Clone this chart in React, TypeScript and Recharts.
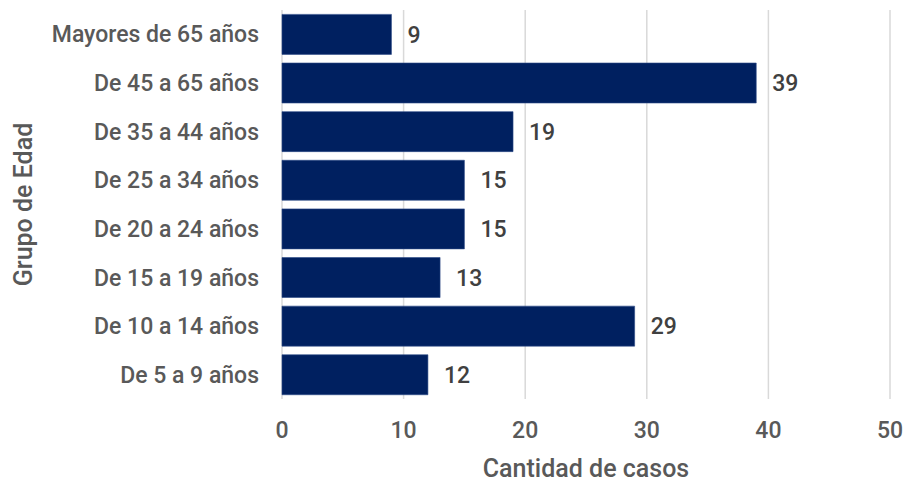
import React from 'react';
import { BarChart, Bar, XAxis, YAxis, CartesianGrid, LabelList } from 'recharts';

const grupos = [
  'Mayores de 65 años',
  'De 45 a 65 años',
  'De 35 a 44 años',
  'De 25 a 34 años',
  'De 20 a 24 años',
  'De 15 a 19 años',
  'De 10 a 14 años',
  'De 5 a 9 años',
];
const casos = [9, 39, 19, 15, 15, 13, 29, 12];
const xTicks = [0, 10, 20, 30, 40, 50];

const data = grupos.map((grupo, i) => ({ grupo, casos: casos[i] }));

const font = 'Roboto, "DejaVu Sans", sans-serif';

const YTitle = (props: any) => {
  const vb = props.viewBox || {};
  const x = 23;
  const y = (vb.y || 0) + (vb.height || 0) / 2;
  return (
    <text
      x={x}
      y={y}
      transform={`rotate(-90, ${x}, ${y})`}
      textAnchor="middle"
      dominantBaseline="central"
      fill="#595959"
      fontSize={25}
      fontWeight={500}
      fontFamily={font}
    >
      Grupo de Edad
    </text>
  );
};

const App: React.FC = () => {
  return (
    <div style={{ position: 'absolute', left: 0, top: 0, width: 906, height: 485, background: '#fff' }}>
      <BarChart
        width={906}
        height={485}
        data={data}
        layout="vertical"
        margin={{ top: 10, right: 16, bottom: 0, left: 0 }}
        barCategoryGap="9%"
      >
        <CartesianGrid horizontal={false} stroke="#d9d9d9" strokeWidth={1.5} />
        <XAxis
          type="number"
          domain={[0, 50]}
          ticks={xTicks}
          axisLine={false}
          tickLine={false}
          tickMargin={17}
          height={86}
          tick={{ fill: '#595959', fontSize: 23, fontWeight: 500, fontFamily: font }}
          label={{
            value: 'Cantidad de casos',
            position: 'insideBottom',
            offset: 8,
            fill: '#595959',
            fontSize: 25,
            fontWeight: 500,
            fontFamily: font,
          }}
        />
        <YAxis
          type="category"
          dataKey="grupo"
          width={282}
          axisLine={false}
          tickLine={false}
          tickMargin={17}
          interval={0}
          tick={{ fill: '#595959', fontSize: 23, fontWeight: 500, fontFamily: font }}
          label={<YTitle />}
        />
        <Bar dataKey="casos" fill="#002060" stroke="#2c4a86" strokeWidth={0.6} isAnimationActive={false}>
          <LabelList
            dataKey="casos"
            position="right"
            offset={16}
            fill="#404040"
            fontSize={23}
            fontWeight={500}
            fontFamily={font}
          />
        </Bar>
      </BarChart>
    </div>
  );
};

export default App;
